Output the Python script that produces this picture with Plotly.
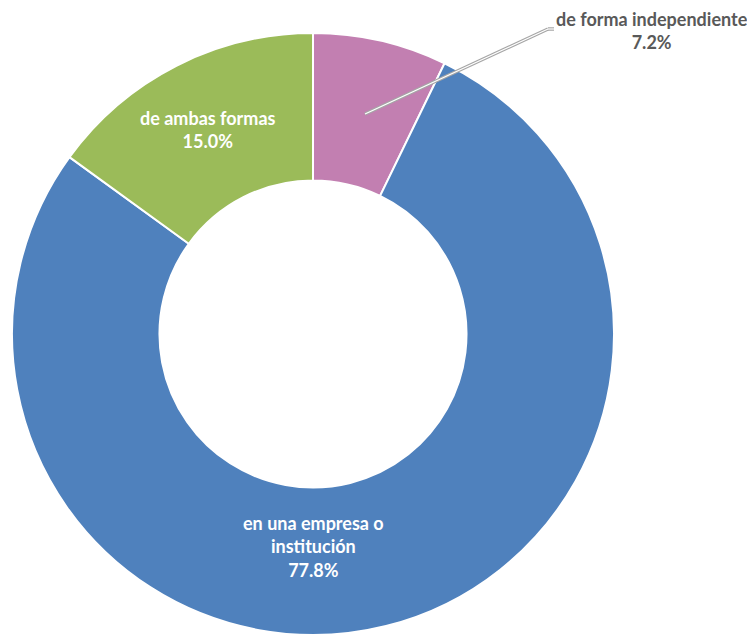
import plotly.graph_objects as go

labels = ["de forma independiente", "en una empresa o<br>institución", "de ambas formas"]
values = [7.2, 77.8, 15.0]
colors = ["#C27FB1", "#4F81BD", "#9BBB59"]

W, H = 755, 634
OFF = 8  # page body margin offset
fig = go.Figure(go.Pie(
    labels=labels, values=values, sort=False, direction="clockwise", rotation=0,
    hole=0.51, textinfo="none", hoverinfo="label+percent",
    marker=dict(colors=colors, line=dict(color="white", width=2)),
    domain=dict(x=[(12 - OFF) / W, (614 - OFF) / W],
                y=[1 - (635 - OFF) / H, 1 - (33 - OFF) / H]),
    showlegend=False,
))

font = "Lato, 'Open Sans', sans-serif"
# label positions (pixels)
pos = [(652, 30, "#595959"), (313, 546, "white"), (208, 129, "white")]
for lab, v, (px, py, col) in zip(labels, values, pos):
    fig.add_annotation(
        x=(px - OFF) / W, y=1 - (py - OFF) / H, xref="paper", yref="paper",
        text=f"<b>{lab}<br>{v:.1f}%</b>", showarrow=False,
        font=dict(family=font, size=18, color=col),
        xanchor="center", yanchor="middle", align="center",
    )

# leader line for the small slice (double line look)
pts = [(365, 114), (548, 29), (554, 29)]
for width, col in [(3.5, "#A6A6A6"), (1.2, "white")]:
    for (x0, y0), (x1, y1) in zip(pts[:-1], pts[1:]):
        fig.add_shape(type="line", xref="paper", yref="paper",
                      x0=(x0 - OFF) / W, y0=1 - (y0 - OFF) / H,
                      x1=(x1 - OFF) / W, y1=1 - (y1 - OFF) / H,
                      line=dict(color=col, width=width))

fig.update_layout(width=W, height=H, margin=dict(l=0, r=0, t=0, b=0),
                  paper_bgcolor="white", plot_bgcolor="white")
fig.write_html("out.html")
